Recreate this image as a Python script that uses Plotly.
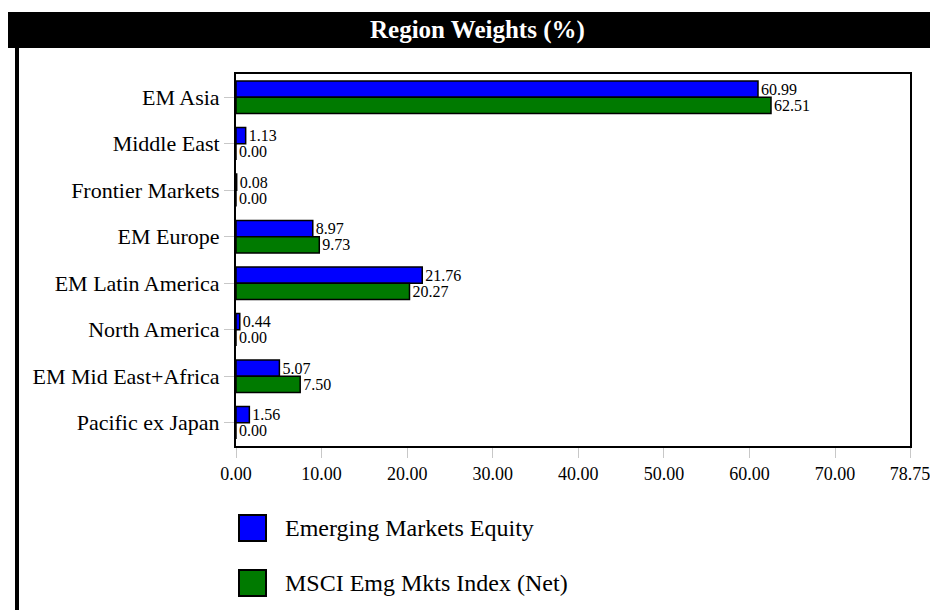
import plotly.graph_objects as go

W, H = 938, 610

regions = ['EM Asia', 'Middle East', 'Frontier Markets', 'EM Europe',
           'EM Latin America', 'North America', 'EM Mid East+Africa', 'Pacific ex Japan']
fund_weights = [60.99, 1.13, 0.08, 8.97, 21.76, 0.44, 5.07, 1.56]
index_weights = [62.51, 0.00, 0.00, 9.73, 20.27, 0.00, 7.50, 0.00]
series_names = ['Emerging Markets Equity', 'MSCI Emg Mkts Index (Net)']
series_colors = ['#0000FF', '#007A00']
x_ticks = [0, 10, 20, 30, 40, 50, 60, 70, 78.75]

FONT = 'Liberation Serif'


def px_x(v):
    return v / W


def px_y(v):
    return 1 - v / H


fig = go.Figure()
for name, vals, col in zip(series_names, [fund_weights, index_weights], series_colors):
    fig.add_trace(go.Bar(
        y=regions,
        x=vals,
        name=name,
        orientation='h',
        marker=dict(color=col, line=dict(color='black', width=1.5)),
        text=[f'{v:.2f}' for v in vals],
        textposition='outside',
        textfont=dict(family=FONT, size=16, color='black'),
        constraintext='none',
        cliponaxis=False,
        showlegend=False,
    ))

shapes = [
    # title bar
    dict(type='rect', xref='paper', yref='paper', x0=0, x1=1,
         y0=px_y(40), y1=px_y(4), fillcolor='black', line=dict(width=0), layer='below'),
    # left frame line
    dict(type='line', xref='paper', yref='paper', x0=px_x(9), x1=px_x(9),
         y0=0, y1=px_y(40), line=dict(color='black', width=4)),
]
annotations = [
    dict(text='<b>Region Weights (%)</b>', xref='paper', yref='paper', x=0.5, y=px_y(22),
         xanchor='center', yanchor='middle', showarrow=False,
         font=dict(family=FONT, size=25, color='white')),
]

# legend drawn by hand (big square swatches)
for i, (name, col) in enumerate(zip(series_names, series_colors)):
    cy = 520 + i * 55
    shapes.append(dict(type='rect', xref='paper', yref='paper',
                       x0=px_x(231), x1=px_x(258), y0=px_y(cy + 13), y1=px_y(cy - 13),
                       fillcolor=col, line=dict(color='black', width=2)))
    annotations.append(dict(text=name, xref='paper', yref='paper', x=px_x(275), y=px_y(cy),
                            xanchor='left', yanchor='middle', showarrow=False,
                            font=dict(family=FONT, size=24, color='black')))

fig.update_layout(
    template='none',
    width=W, height=H,
    barmode='group',
    bargap=0.3,
    bargroupgap=0,
    margin=dict(l=0, r=0, t=0, b=0),
    paper_bgcolor='white',
    plot_bgcolor='white',
    font=dict(family=FONT, color='black'),
    xaxis=dict(
        domain=[px_x(228), px_x(902)],
        automargin=False,
        range=[0, 78.75],
        tickvals=x_ticks,
        ticktext=[f'{v:.2f}' for v in x_ticks],
        tickfont=dict(family=FONT, size=18),
        ticks='outside', ticklen=10, tickcolor='#c8c8c8', tickwidth=1,
        showgrid=False, zeroline=False,
        showline=True, linecolor='black', linewidth=2, mirror=True,
    ),
    yaxis=dict(
        domain=[px_y(438), px_y(66)],
        automargin=False,
        autorange='reversed',
        tickfont=dict(family=FONT, size=22),
        ticks='outside', ticklen=10, tickcolor='#c8c8c8', tickwidth=1,
        showgrid=False, zeroline=False,
        showline=True, linecolor='black', linewidth=2, mirror=True,
    ),
    shapes=shapes,
    annotations=annotations,
)

fig.write_html('out.html')
